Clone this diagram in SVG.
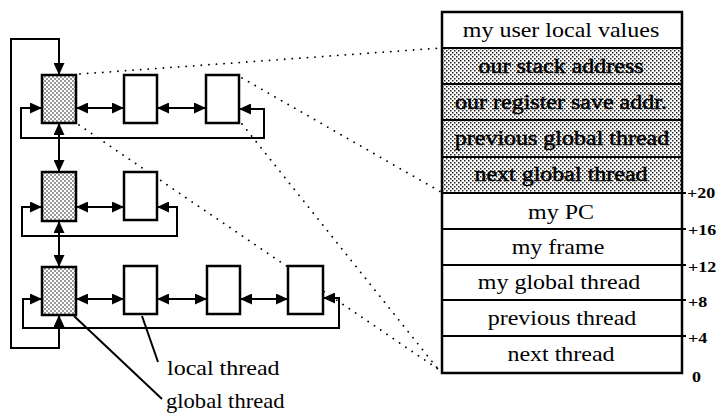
<svg xmlns="http://www.w3.org/2000/svg" width="718" height="413" viewBox="0 0 718 413">
<defs>
<pattern id="dots" width="4" height="4" patternUnits="userSpaceOnUse"><rect width="4" height="4" fill="#fff"/><circle cx="1" cy="1" r="0.75" fill="#000"/><circle cx="3" cy="3" r="0.75" fill="#000"/></pattern>
<pattern id="fine" width="4" height="4" patternUnits="userSpaceOnUse"><rect width="4" height="4" fill="#fff"/><rect x="0" y="0" width="1.5" height="1.5" fill="#222"/><rect x="2" y="2" width="1.5" height="1.5" fill="#222"/></pattern>
<marker id="ah" markerUnits="userSpaceOnUse" markerWidth="13" markerHeight="11" refX="12" refY="5.5" orient="auto-start-reverse"><path d="M0,0 L12,5.5 L0,11 z" fill="#000"/></marker>
</defs>
<style>
.box{fill:#fff;stroke:#000;stroke-width:2.5}
.sh{fill:url(#dots);stroke:#000;stroke-width:2.5}
.conn{fill:none;stroke:#000;stroke-width:2;marker-start:url(#ah);marker-end:url(#ah)}
.ln{fill:none;stroke:#000;stroke-width:2}
.dot{fill:none;stroke:#000;stroke-width:1.8;stroke-dasharray:0.1 7.5;stroke-linecap:round}
.t{font-family:"Liberation Serif","Times New Roman",serif;font-size:20px;fill:#000}
.c{text-anchor:middle}
.ts{stroke:#000;stroke-width:0.5}
.off{font-family:"Liberation Serif","Times New Roman",serif;font-size:15px;font-weight:bold;fill:#000}
.row{stroke:#000;stroke-width:2}
</style>

<g id="connectors">
<path class="conn" d="M59,315 V348 H11 V39 H59 V75"/>
<path class="conn" d="M76,108 H124"/>
<path class="conn" d="M157,108 H206"/>
<path class="conn" d="M239,109 H264 V138 H21 V108 H42"/>
<path class="conn" d="M59,123 V172"/>
<path class="conn" d="M76,207 H124"/>
<path class="conn" d="M157,207 H177 V236 H22 V207 H42"/>
<path class="conn" d="M59,221 V267"/>
<path class="conn" d="M76,299 H124"/>
<path class="conn" d="M157,299 H207"/>
<path class="conn" d="M240,299 H288"/>
<path class="conn" d="M323,298 H339 V328 H23 V299 H42"/>
<path class="ln" d="M142,316 L158,362"/>
<path class="ln" d="M74,316 L162,399"/>
<path class="dot" d="M80,74 L441,48"/>
<path class="dot" d="M242,78 L441,192"/>
<path class="dot" d="M242,124 L438,369"/>
<path class="dot" d="M79,125 L438,369"/>
</g>

<g id="g1"><rect class="sh" x="42" y="75" width="34" height="48"/></g>
<g id="l12"><rect class="box" x="124" y="75" width="33" height="48"/></g>
<g id="l13"><rect class="box" x="206" y="75" width="33" height="48"/></g>
<g id="g2"><rect class="sh" x="42" y="172" width="34" height="49"/></g>
<g id="l22"><rect class="box" x="124" y="172" width="33" height="48"/></g>
<g id="g3"><rect class="sh" x="42" y="267" width="34" height="48"/></g>
<g id="l32"><rect class="box" x="124" y="266" width="33" height="48"/></g>
<g id="l33"><rect class="box" x="207" y="266" width="33" height="48"/></g>
<g id="l34"><rect class="box" x="288" y="266" width="35" height="48"/></g>

<g id="labels">
<text class="t" transform="translate(167,375) scale(1.2,1)">local thread</text>
<text class="t" transform="translate(166,408) scale(1.13,1)">global thread</text>
</g>

<g id="table">
<rect x="442" y="12" width="240" height="361" fill="#fff"/>
<rect x="442" y="48" width="240" height="145" fill="url(#fine)"/>
<line class="row" x1="442" y1="48" x2="682" y2="48"/>
<line class="row" x1="442" y1="84" x2="682" y2="84"/>
<line class="row" x1="442" y1="120" x2="682" y2="120"/>
<line class="row" x1="442" y1="157" x2="682" y2="157"/>
<line class="row" x1="442" y1="193" x2="686" y2="193"/>
<line class="row" x1="442" y1="229" x2="686" y2="229"/>
<line class="row" x1="442" y1="265" x2="686" y2="265"/>
<line class="row" x1="442" y1="300" x2="686" y2="300"/>
<line class="row" x1="442" y1="336" x2="686" y2="336"/>
<rect x="442" y="12" width="240" height="361" fill="none" stroke="#000" stroke-width="2.5"/>
<text class="t c" transform="translate(561,37) scale(1.2,1)">my user local values</text>
<text class="t c ts" transform="translate(561,73) scale(1.2,1)">our stack address</text>
<text class="t c ts" transform="translate(561,109) scale(1.2,1)">our register save addr.</text>
<text class="t c ts" transform="translate(562,145) scale(1.2,1)">previous global thread</text>
<text class="t c ts" transform="translate(561,181) scale(1.2,1)">next global thread</text>
<text class="t c" transform="translate(561,219) scale(1.2,1)">my PC</text>
<text class="t c" transform="translate(558,254) scale(1.2,1)">my frame</text>
<text class="t c" transform="translate(559,289) scale(1.2,1)">my global thread</text>
<text class="t c" transform="translate(562,325) scale(1.2,1)">previous thread</text>
<text class="t c" transform="translate(561,361) scale(1.2,1)">next thread</text>
<text class="off" transform="translate(687,198) scale(1.2,1)">+20</text>
<text class="off" transform="translate(688,235) scale(1.2,1)">+16</text>
<text class="off" transform="translate(688,272) scale(1.2,1)">+12</text>
<text class="off" transform="translate(688,307) scale(1.2,1)">+8</text>
<text class="off" transform="translate(688,343) scale(1.2,1)">+4</text>
<text class="off" transform="translate(692,382) scale(1.2,1)">0</text>
</g>
</svg>
